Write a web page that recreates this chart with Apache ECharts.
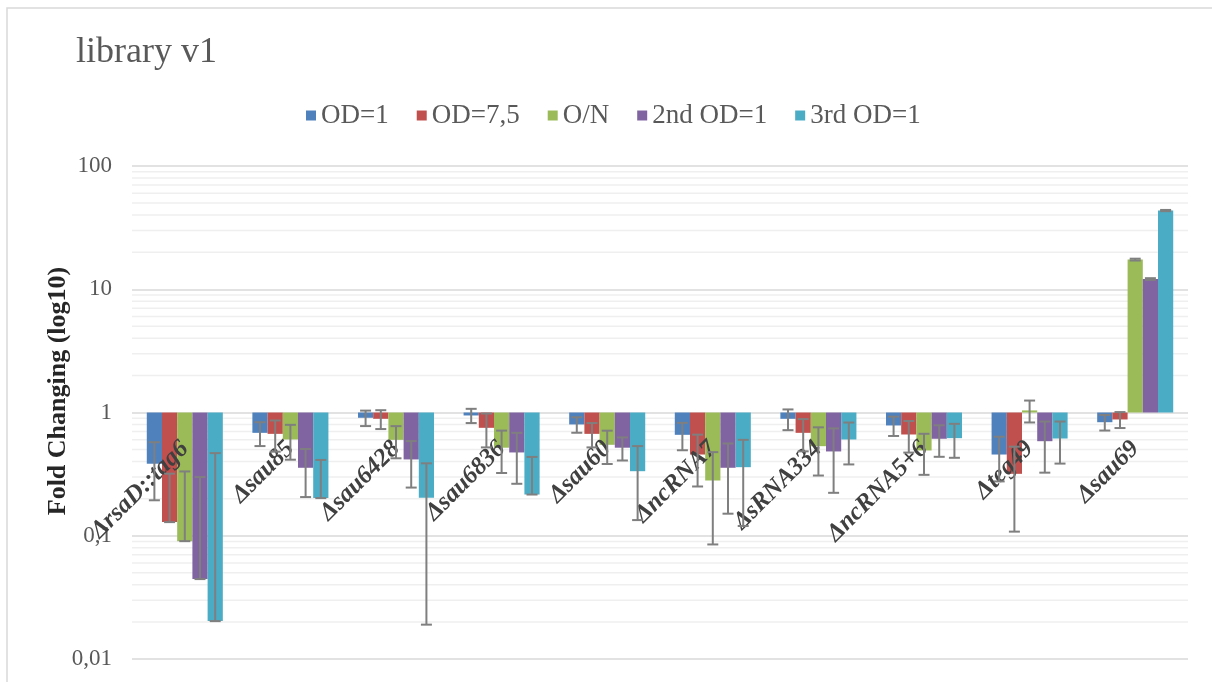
<!DOCTYPE html>
<html>
<head>
<meta charset="utf-8">
<script src="https://cdn.jsdelivr.net/npm/echarts@6/dist/echarts.min.js"></script>
<style>
  html, body { margin: 0; padding: 0; background: #fff; }
  #chart { width: 1212px; height: 682px; }
</style>
</head>
<body>
<div id="chart"></div>
<script>
// Mutant strains on the category axis
const categories = ['ΔrsaD::tag6', 'Δsau85', 'Δsau6428', 'Δsau6836', 'Δsau60',
  'ΔncRNA7', 'ΔsRNA334', 'ΔncRNA5+6', 'Δteg49', 'Δsau69'];

const seriesNames = ['OD=1', 'OD=7,5', 'O/N', '2nd OD=1', '3rd OD=1'];

// Fold change per growth condition
const od1    = [0.384, 0.684, 0.906, 0.946, 0.800, 0.659, 0.889, 0.785, 0.456, 0.834];
const od75   = [0.129, 0.671, 0.889, 0.751, 0.671, 0.456, 0.684, 0.663, 0.318, 0.878];
const on     = [0.0904, 0.604, 0.600, 0.518, 0.547, 0.281, 0.533, 0.492, 1.04, 17.4];
const od1Second = [0.0445, 0.356, 0.416, 0.474, 0.518, 0.356, 0.483, 0.612, 0.585, 12.1];
const od1Third  = [0.0203, 0.202, 0.203, 0.216, 0.334, 0.360, 0.604, 0.619, 0.615, 43.5];

// Standard deviations (symmetric)
const errOd1    = [0.19, 0.15, 0.13, 0.125, 0.115, 0.165, 0.17, 0.14, 0.18, 0.12];
const errOd75   = [0.19, 0.19, 0.155, 0.23, 0.15, 0.205, 0.20, 0.19, 0.21, 0.13];
const errOn     = [0.242, 0.19, 0.175, 0.195, 0.165, 0.196, 0.225, 0.18, 0.21, 0.30];
const errSecond = [0.255, 0.15, 0.17, 0.21, 0.11, 0.205, 0.26, 0.175, 0.26, 0.20];
const errThird  = [0.448, 0.21, 0.184, 0.22, 0.20, 0.24, 0.225, 0.19, 0.23, 0.50];

const yTickLabels = ['0,01', '0,1', '1', '10', '100'];

const colors = ['#4F81BD', '#C0504D', '#9BBB59', '#8064A2', '#4BACC6'];
const values = [od1, od75, on, od1Second, od1Third];
const errors = [errOd1, errOd75, errOn, errSecond, errThird];

const FONT = "'Liberation Serif', 'Times New Roman', serif";
const GAP = 0.28; // category gap fraction

// Minor log gridlines at 2..9 of each decade
const minorGrid = [];
[0.01, 0.1, 1, 10].forEach(function (d) {
  for (let k = 2; k <= 9; k++) minorGrid.push([0, +(d * k).toPrecision(3)]);
});

// Error bar items: [category, value, error, series index]
const errItems = [];
values.forEach(function (arr, s) {
  arr.forEach(function (v, c) { errItems.push([c, v, errors[s][c], s]); });
});

const chart = echarts.init(document.getElementById('chart'), null, { renderer: 'canvas' });

const barSeries = seriesNames.map(function (name, s) {
  return {
    name: name,
    type: 'bar',
    data: values[s],
    barGap: '0%',
    barCategoryGap: (GAP * 100) + '%',
    itemStyle: { color: colors[s] },
    z: 2,
    silent: true
  };
});

chart.setOption({
  animation: false,
  textStyle: { fontFamily: FONT },
  title: {
    text: 'library v1',
    left: 76,
    top: 35,
    padding: 0,
    textStyle: { fontFamily: FONT, fontSize: 36, fontWeight: 'normal', color: '#595959' }
  },
  legend: {
    data: seriesNames,
    top: 97,
    left: 301,
    icon: 'rect',
    itemWidth: 10,
    itemHeight: 10,
    itemGap: 28,
    textStyle: { fontFamily: FONT, fontSize: 27, color: '#595959' }
  },
  graphic: [
    {
      type: 'rect',
      shape: { x: 7, y: 8, width: 1400, height: 900 },
      style: { fill: 'none', stroke: '#d9d9d9', lineWidth: 1.5 },
      silent: true,
      z: -10
    },
    {
      type: 'text',
      x: 58,
      y: 391,
      rotation: Math.PI / 2,
      style: {
        text: 'Fold Changing (log10)',
        fontFamily: FONT,
        fontSize: 26,
        fontWeight: 'bold',
        fill: '#262626',
        align: 'center',
        verticalAlign: 'middle'
      }
    }
  ],
  grid: { left: 132, right: 24, top: 166, bottom: 23, outerBoundsMode: 'none' },
  xAxis: {
    type: 'category',
    data: categories,
    z: 3,
    axisLine: { show: false },
    axisTick: { show: false },
    axisLabel: {
      interval: 0,
      rotate: 45,
      margin: -214,
      fontFamily: FONT,
      fontStyle: 'italic',
      fontWeight: 'bold',
      fontSize: 25,
      color: '#404040'
    },
    splitLine: { show: false }
  },
  yAxis: {
    type: 'log',
    logBase: 10,
    min: 0.01,
    max: 100,
    axisLine: { show: false },
    axisTick: { show: false },
    axisLabel: {
      margin: 20,
      fontFamily: FONT,
      fontSize: 23,
      color: '#595959',
      formatter: function (v) {
        return yTickLabels[Math.round(Math.log10(v)) + 2];
      }
    },
    splitLine: { show: true, lineStyle: { color: '#d9d9d9', width: 1.5 } }
  },
  series: [
    {
      type: 'custom',
      name: 'minor-grid',
      silent: true,
      z: 1,
      data: minorGrid,
      encode: { x: 0, y: 1 },
      renderItem: function (params, api) {
        const y = api.coord([0, api.value(1)])[1];
        const cs = params.coordSys;
        return {
          type: 'line',
          shape: { x1: cs.x, y1: y, x2: cs.x + cs.width, y2: y },
          style: { stroke: '#efefef', lineWidth: 1.5 }
        };
      }
    }
  ].concat(barSeries).concat([
    {
      type: 'custom',
      name: 'error-bars',
      silent: true,
      z: 5,
      data: errItems,
      encode: { x: 0, y: 1 },
      renderItem: function (params, api) {
        const cat = api.value(0);
        const v = api.value(1);
        const e = api.value(2);
        const s = api.value(3);
        const band = api.size([1, 0], [cat, 1])[0];
        const bw = band * (1 - GAP) / seriesNames.length;
        const cx = api.coord([cat, 1])[0] + (s - (seriesNames.length - 1) / 2) * bw;
        const hi = v + e;
        const lo = (v - e) > 0 ? v - e : v;
        const yHi = api.coord([cat, hi])[1];
        const yLo = api.coord([cat, lo])[1];
        const cap = 5.5;
        const st = { stroke: '#7f7f7f', lineWidth: 2 };
        return {
          type: 'group',
          children: [
            { type: 'line', shape: { x1: cx, y1: yHi, x2: cx, y2: yLo }, style: st },
            { type: 'line', shape: { x1: cx - cap, y1: yHi, x2: cx + cap, y2: yHi }, style: st },
            { type: 'line', shape: { x1: cx - cap, y1: yLo, x2: cx + cap, y2: yLo }, style: st }
          ]
        };
      }
    }
  ])
});
</script>
</body>
</html>
